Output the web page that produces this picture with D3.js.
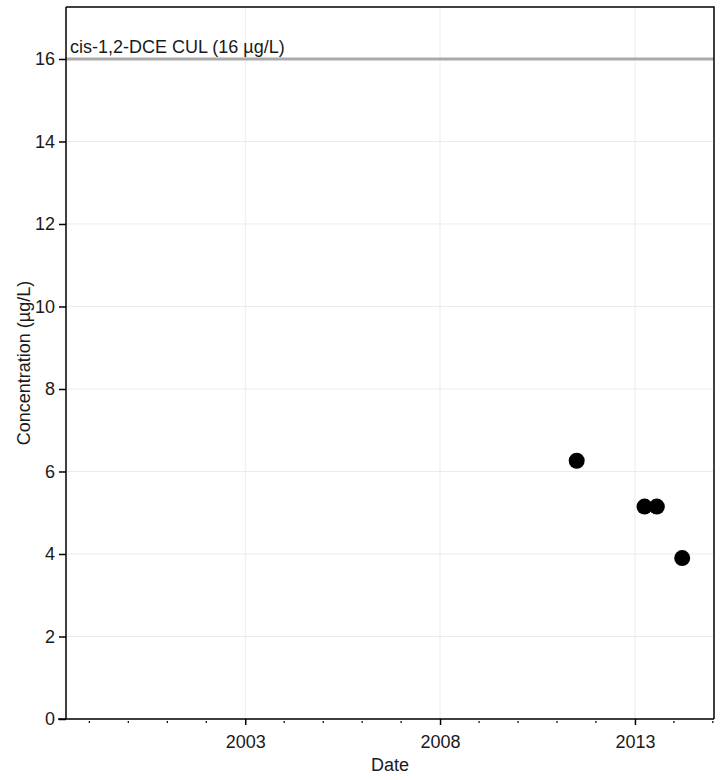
<!DOCTYPE html>
<html>
<head>
<meta charset="utf-8">
<script src="https://cdn.jsdelivr.net/npm/d3@7"></script>
<style>
  body { margin: 0; background: #fff; }
  svg text { font-family: "Liberation Sans", Arial, sans-serif; fill: #1a1a1a; }
</style>
</head>
<body>
<svg id="chart" width="723" height="780"></svg>
<script>
// Sample dates and measured cis-1,2-DCE concentrations
const sampleDates = ["2011-07-05", "2013-04-01", "2013-07-25", "2014-03-20"];
const concentrations = [6.26, 5.15, 5.15, 3.9];
const yTicks = [0, 2, 4, 6, 8, 10, 12, 14, 16];
const xTickYears = [2003, 2008, 2013];
const cleanupLevel = 16;
const cleanupLabel = "cis-1,2-DCE CUL (16 µg/L)";

const parse = d3.timeParse("%Y-%m-%d");
const points = sampleDates.map((d, i) => ({ date: parse(d), value: concentrations[i] }));

const svg = d3.select("#chart");
const plotLeft = 66, plotRight = 714, plotTop = 7, plotBottom = 719;
const fontSize = 18;

const x = d3.scaleTime()
  .domain([new Date(1998, 4, 27), new Date(2015, 0, 12)])
  .range([plotLeft, plotRight]);
const y = d3.scaleLinear().domain([0, 17.26]).range([plotBottom, plotTop]);

// Gridlines
const grid = svg.append("g");
grid.selectAll("line.gy").data(yTicks).join("line")
  .attr("x1", plotLeft).attr("x2", plotRight)
  .attr("y1", d => y(d)).attr("y2", d => y(d))
  .attr("stroke", "#ebebeb").attr("stroke-width", 1);
grid.selectAll("line.gx").data(xTickYears).join("line")
  .attr("x1", d => x(new Date(d, 0, 1))).attr("x2", d => x(new Date(d, 0, 1)))
  .attr("y1", plotTop).attr("y2", plotBottom)
  .attr("stroke", "#ebebeb").attr("stroke-width", 1);

// Cleanup level reference line
svg.append("line")
  .attr("x1", plotLeft).attr("x2", plotRight)
  .attr("y1", y(cleanupLevel)).attr("y2", y(cleanupLevel))
  .attr("stroke", "#aaaaaa").attr("stroke-width", 3);
svg.append("text")
  .attr("x", plotLeft + 4).attr("y", y(cleanupLevel) - 6)
  .attr("font-size", fontSize)
  .text(cleanupLabel);

// Frame: top and right borders
svg.append("path")
  .attr("d", `M${plotLeft},${plotTop}H${plotRight}V${plotBottom}`)
  .attr("fill", "none").attr("stroke", "#000").attr("stroke-width", 1.5);

// Y axis
const yAxis = svg.append("g").attr("transform", `translate(${plotLeft},0)`)
  .call(d3.axisLeft(y).tickValues(yTicks).tickSize(7).tickPadding(4));
yAxis.select(".domain").attr("stroke", "#000").attr("stroke-width", 1.5)
  .attr("d", `M0,${plotTop}V${plotBottom}`);
yAxis.selectAll(".tick line").attr("stroke", "#000").attr("stroke-width", 1.5);
yAxis.selectAll(".tick text").attr("font-size", fontSize).attr("fill", "#1a1a1a")
  .attr("font-family", "Liberation Sans, Arial, sans-serif");

// X axis: minor yearly ticks
const minorYears = d3.range(1999, 2016).filter(yr => !xTickYears.includes(yr));
svg.append("g").selectAll("line").data(minorYears).join("line")
  .attr("x1", d => x(new Date(d, 0, 1))).attr("x2", d => x(new Date(d, 0, 1)))
  .attr("y1", plotBottom + 2).attr("y2", plotBottom + 4)
  .attr("stroke", "#000").attr("stroke-width", 1.2);

const xAxis = svg.append("g").attr("transform", `translate(0,${plotBottom})`)
  .call(d3.axisBottom(x).tickValues(xTickYears.map(yr => new Date(yr, 0, 1)))
    .tickFormat(d3.timeFormat("%Y")).tickSize(6).tickPadding(10));
xAxis.select(".domain").attr("stroke", "#000").attr("stroke-width", 1.5)
  .attr("d", `M${plotLeft - 8},0H${plotRight}`);
xAxis.selectAll(".tick line").attr("stroke", "#000").attr("stroke-width", 1.5);
xAxis.selectAll(".tick text").attr("font-size", fontSize).attr("fill", "#1a1a1a")
  .attr("font-family", "Liberation Sans, Arial, sans-serif");

// Axis titles
svg.append("text")
  .attr("x", (plotLeft + plotRight) / 2).attr("y", 771)
  .attr("text-anchor", "middle").attr("font-size", fontSize)
  .text("Date");
svg.append("text")
  .attr("transform", `translate(30,${(plotTop + plotBottom) / 2}) rotate(-90)`)
  .attr("text-anchor", "middle").attr("font-size", fontSize)
  .text("Concentration (µg/L)");

// Data points
svg.append("g").selectAll("circle").data(points).join("circle")
  .attr("cx", d => x(d.date)).attr("cy", d => y(d.value))
  .attr("r", 8).attr("fill", "#000");
</script>
</body>
</html>
